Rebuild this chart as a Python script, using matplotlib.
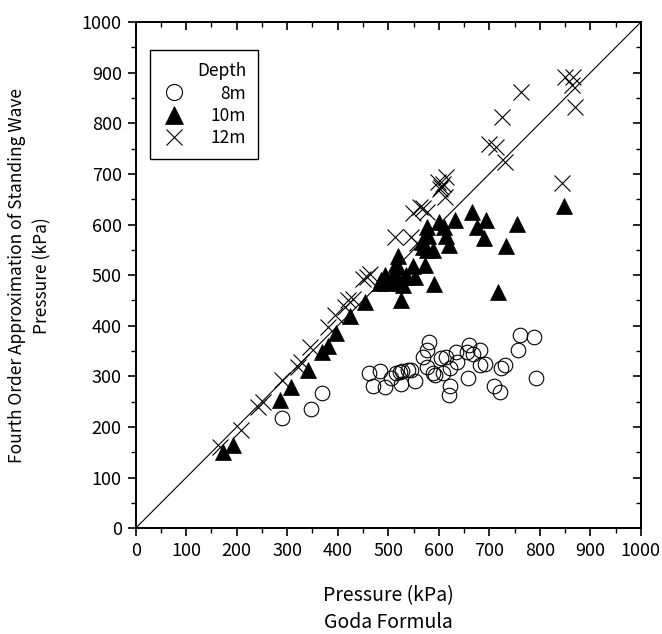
import matplotlib
matplotlib.use("Agg")
import matplotlib.pyplot as plt
from matplotlib.ticker import MultipleLocator

plt.rcParams['font.family'] = ['Noto Sans CJK JP', 'DejaVu Sans']

# Depth 8 m (circles)
c8_x = [290, 348, 368, 462, 469, 483, 493, 505, 516, 523, 526, 528, 539, 546, 552,
        569, 577, 581, 577, 589, 592, 605, 615, 609, 622, 623, 620, 635, 637, 655,
        660, 668, 682, 681, 691, 657, 709, 721, 724, 731, 760, 757, 788, 792]
c8_y = [218, 235, 268, 306, 281, 310, 279, 297, 306, 309, 284, 311, 312, 312, 291,
        339, 353, 368, 319, 306, 302, 337, 339, 306, 316, 281, 263, 348, 329, 348,
        361, 345, 352, 322, 325, 296, 281, 269, 316, 322, 381, 353, 377, 296]

# Depth 10 m (filled triangles)
t10_x = [173, 193, 285, 308, 341, 368, 381, 397, 424, 453, 483, 486, 493, 496, 506,
         513, 516, 519, 519, 526, 523, 529, 533, 536, 549, 552, 566, 569, 572, 576,
         578, 576, 589, 591, 600, 610, 614, 621, 632, 665, 676, 690, 694, 734, 754,
         718, 848]
t10_y = [151, 164, 254, 278, 313, 348, 360, 385, 420, 446, 484, 490, 500, 484, 490,
         500, 523, 538, 517, 451, 484, 480, 497, 500, 518, 497, 566, 556, 521, 549,
         578, 596, 550, 482, 605, 596, 578, 560, 610, 625, 595, 574, 609, 558, 602,
         467, 636]

# Depth 12 m (crosses)
x12_x = [166, 208, 242, 252, 289, 321, 328, 345, 381, 394, 414, 420, 430, 450, 457,
         463, 513, 546, 556, 549, 562, 576, 569, 599, 602, 609, 612, 615, 605, 699,
         713, 725, 731, 762, 843, 850, 863, 865, 869]
x12_y = [161, 194, 240, 250, 292, 319, 329, 358, 398, 421, 437, 451, 452, 493, 497,
         503, 575, 576, 563, 622, 634, 624, 632, 684, 671, 681, 655, 694, 675, 759,
         753, 812, 724, 862, 682, 891, 875, 892, 833]

labels = ["8m", "10m", "12m"]

fig = plt.figure(figsize=(6.62, 6.34), dpi=100)
ax = fig.add_axes([0.205, 0.167, 0.763, 0.798])

ax.plot([0, 1000], [0, 1000], color='black', lw=0.8, zorder=1)
ax.plot(c8_x, c8_y, linestyle='none', marker='o', markersize=10.5,
        markerfacecolor='none', markeredgecolor='black', markeredgewidth=0.8,
        label=labels[0], zorder=3)
ax.plot(t10_x, t10_y, linestyle='none', marker='^', markersize=12,
        markerfacecolor='black', markeredgecolor='black', markeredgewidth=0.5,
        label=labels[1], zorder=3)
ax.plot(x12_x, x12_y, linestyle='none', marker='x', markersize=11,
        color='black', markeredgewidth=0.8, label=labels[2], zorder=3)

ax.set_xlim(0, 1000)
ax.set_ylim(0, 1000)
ax.xaxis.set_major_locator(MultipleLocator(100))
ax.xaxis.set_minor_locator(MultipleLocator(50))
ax.yaxis.set_major_locator(MultipleLocator(100))
ax.yaxis.set_minor_locator(MultipleLocator(50))
ax.tick_params(which='major', direction='out', length=6, width=1.2, labelsize=13,
               top=False, right=False, pad=4)
ax.tick_params(which='minor', direction='out', length=3.5, width=1.0,
               top=False, right=False)
for s in ax.spines.values():
    s.set_linewidth(1.4)

# inward ticks on top and right
sx = ax.secondary_xaxis('top')
sx.xaxis.set_major_locator(MultipleLocator(100))
sx.xaxis.set_minor_locator(MultipleLocator(50))
sx.tick_params(which='major', direction='in', length=6, width=1.2, labeltop=False)
sx.tick_params(which='minor', direction='in', length=3.5, width=1.0)
sx.spines['top'].set_linewidth(1.4)
sy = ax.secondary_yaxis('right')
sy.yaxis.set_major_locator(MultipleLocator(100))
sy.yaxis.set_minor_locator(MultipleLocator(50))
sy.tick_params(which='major', direction='in', length=6, width=1.2, labelright=False)
sy.tick_params(which='minor', direction='in', length=3.5, width=1.0)
sy.spines['right'].set_linewidth(1.4)

ax.set_xlabel("Pressure (kPa)\nGoda Formula", fontsize=14, labelpad=18, linespacing=1.35)
ax.set_ylabel("Fourth Order Approximation of Standing Wave\nPressure (kPa)",
              fontsize=12.5, labelpad=22, linespacing=1.5)

leg = ax.legend(title="Depth", loc='upper left', bbox_to_anchor=(0.028, 0.945),
                borderaxespad=0, fontsize=12.5, title_fontsize=12.5, frameon=True,
                fancybox=False, edgecolor='black', framealpha=1, alignment='right',
                handletextpad=1.4, borderpad=0.7, labelspacing=0.25, handlelength=1.4,
                markerscale=1.1)
leg.get_frame().set_linewidth(1.0)
# right-align legend labels
fig.canvas.draw()
texts = leg.get_texts()
widths = [t.get_window_extent().width for t in texts]
maxw = max(widths)
for t, w in zip(texts, widths):
    t.set_position((maxw - w, 0))

fig.savefig("out.png", dpi=100)
